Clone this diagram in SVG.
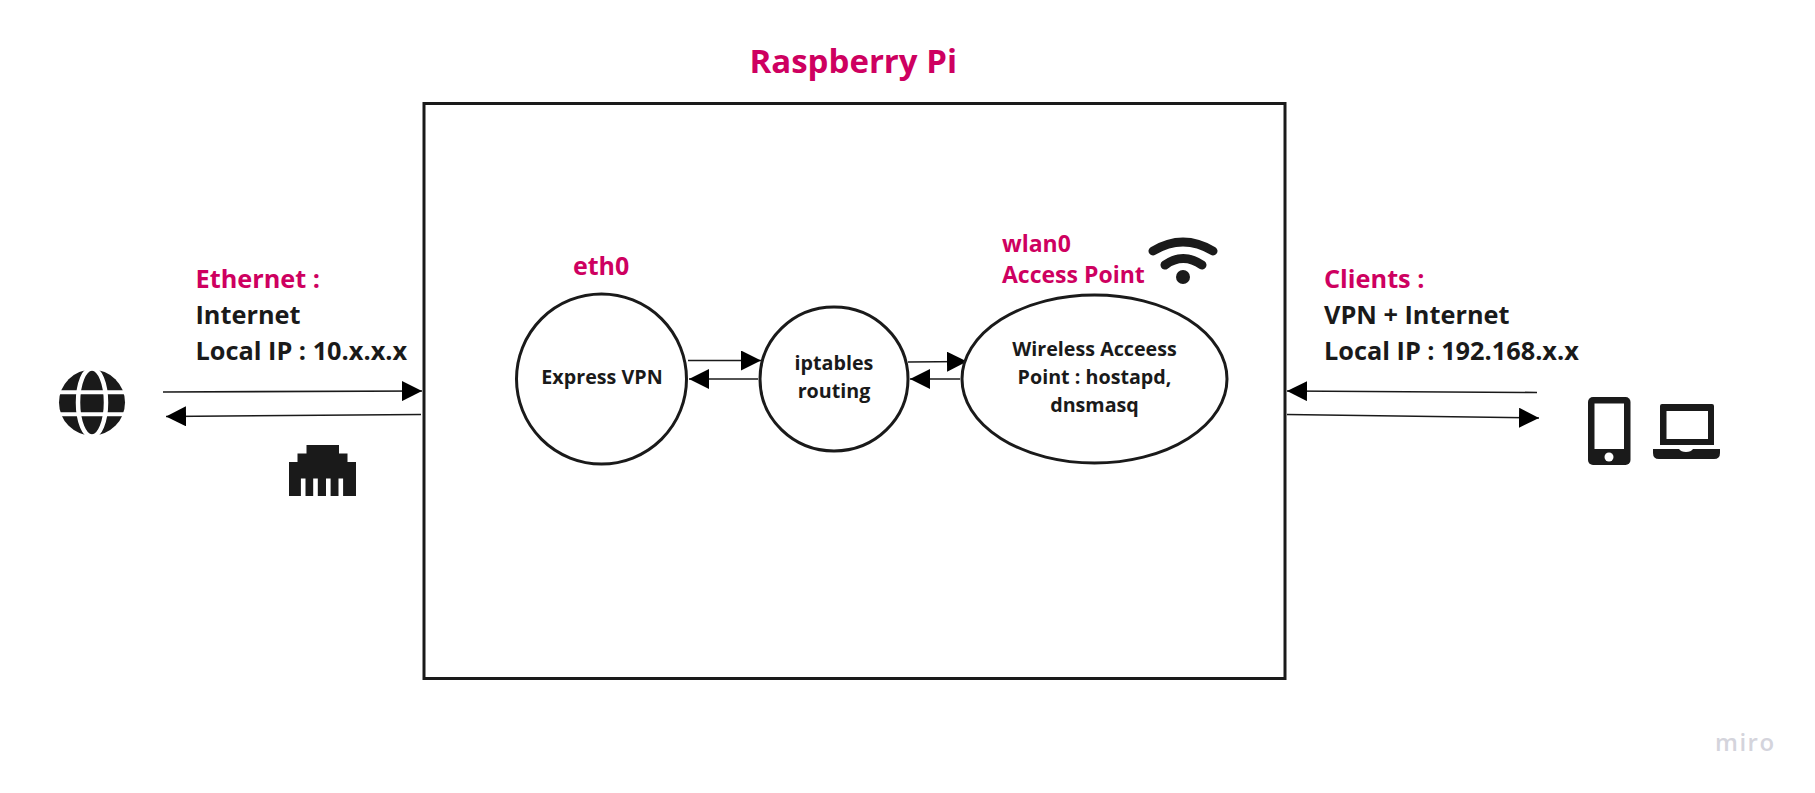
<svg xmlns="http://www.w3.org/2000/svg" width="1815" height="793" viewBox="0 0 1815 793">
<style>
text{font-family:"Open Sans","Noto Sans","Liberation Sans",sans-serif;font-weight:700}
.p{fill:#ce0060}
.k{fill:#1a1a1a}
.l{font-size:25.3px}
.m{font-size:23px}
.s{font-size:19.700px;text-anchor:middle;fill:#1a1a1a}
.n{fill:#fff;stroke:#1a1a1a;stroke-width:3}
.c{stroke:#1a1a1a;stroke-width:1.6;fill:none}
.i{fill:#1a1a1a}
</style>
<defs>
<marker id="a" markerUnits="userSpaceOnUse" viewBox="0 0 20 20" refX="20" refY="10" markerWidth="20" markerHeight="20" orient="auto"><path d="M0 0L20 10L0 20Z" fill="#000"/></marker>
</defs>
<rect width="1815" height="793" fill="#fff"/>
<g id="raspberry-pi">
<rect class="n" x="424" y="103.500" width="861" height="575"/>
<text class="p" x="749.500" y="73" font-size="33">Raspberry Pi</text>
</g>
<g id="connectors">
<path class="c" marker-end="url(#a)" d="M163 392L422 391"/>
<path class="c" marker-end="url(#a)" d="M421 414.500L166 416.500"/>
<path class="c" marker-end="url(#a)" d="M688 360.500L761 360.500"/>
<path class="c" marker-end="url(#a)" d="M758 379L689 379"/>
<path class="c" marker-end="url(#a)" d="M908 362L967 361.500"/>
<path class="c" marker-end="url(#a)" d="M960 379L910 379"/>
<path class="c" marker-end="url(#a)" d="M1537 392.500L1287 391"/>
<path class="c" marker-end="url(#a)" d="M1287 414.500L1539 418"/>
</g>
<g id="express-vpn">
<circle class="n" cx="601.500" cy="379" r="85"/>
<text class="s" x="602" y="384">Express VPN</text>
</g>
<g id="eth0"><text class="p" font-size="25" x="573" y="275">eth0</text></g>
<g id="iptables">
<ellipse class="n" cx="834" cy="379" rx="74" ry="72"/>
<text class="s" x="834" y="370">iptables</text>
<text class="s" x="834" y="398">routing</text>
</g>
<g id="access-point">
<ellipse class="n" cx="1094.500" cy="379" rx="132.500" ry="84"/>
<text class="s" x="1094.500" y="356">Wireless Acceess</text>
<text class="s" x="1094.500" y="384">Point : hostapd,</text>
<text class="s" x="1094.500" y="412">dnsmasq</text>
</g>
<g id="wlan0">
<text class="p m" x="1002" y="251.500">wlan0</text>
<text class="p m" x="1002" y="283">Access Point</text>
</g>
<g id="wifi-icon">
<path d="M1153 251Q1183 233 1213 251" fill="none" stroke="#1a1a1a" stroke-width="9" stroke-linecap="round"/>
<path d="M1165 265Q1183 252 1202 265" fill="none" stroke="#1a1a1a" stroke-width="9" stroke-linecap="round"/>
<circle class="i" cx="1183" cy="277" r="7"/>
</g>
<g id="ethernet">
<text class="p l" x="195.500" y="287.700">Ethernet :</text>
<text class="k l" x="195.500" y="323.700">Internet</text>
<text class="k l" x="195.500" y="359.500">Local IP : 10.x.x.x</text>
</g>
<g id="globe-icon">
<circle class="i" cx="92" cy="402.500" r="33"/>
<ellipse cx="92" cy="402.500" rx="14" ry="34" fill="none" stroke="#fff" stroke-width="4.500"/>
<path d="M55 392.300H129M55 414.300H129" stroke="#fff" stroke-width="4"/>
</g>
<g id="rj45-icon">
<path class="i" d="M289 462H297.500V453.500H306.500V445H339V453.500H347.500V462H356V496H289Z"/>
<path d="M303.200 496V478.500M315.500 496V478.500M328.300 496V478.500M340.800 496V478.500" stroke="#fff" stroke-width="4.600"/>
</g>
<g id="clients">
<text class="p l" x="1324" y="287.700">Clients :</text>
<text class="k l" x="1324" y="323.700">VPN + Internet</text>
<text class="k l" x="1324" y="359.500">Local IP : 192.168.x.x</text>
</g>
<g id="phone-icon">
<rect class="i" x="1588" y="397" width="42.500" height="68" rx="5"/>
<rect x="1594.500" y="403.500" width="29.500" height="45.500" fill="#fff"/>
<circle cx="1609" cy="457" r="4.500" fill="#fff"/>
</g>
<g id="laptop-icon">
<path class="i" fill-rule="evenodd" d="M1662 404H1712Q1714 404 1714 406V445H1660V406Q1660 404 1662 404ZM1666.500 411V439H1708V411Z"/>
<path class="i" d="M1653 449H1679Q1681 452 1686 452Q1691 452 1693 449H1720V453Q1720 459 1714 459H1659Q1653 459 1653 453Z"/>
</g>
<text x="1715" y="750.500" font-size="24" style="font-weight:600;letter-spacing:1.5px" fill="#d4d4dc">miro</text>
</svg>
